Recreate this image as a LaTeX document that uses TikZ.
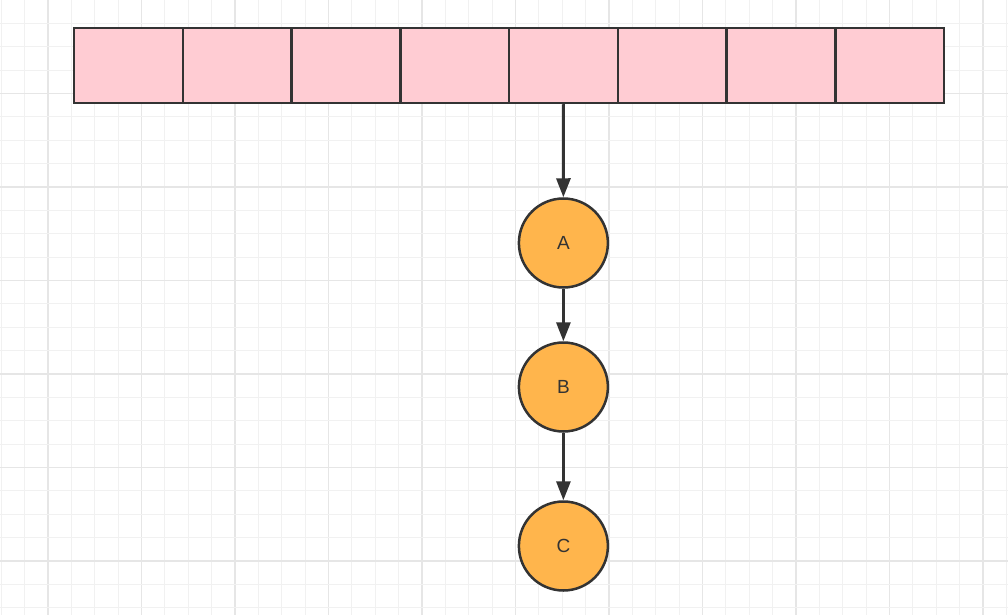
\documentclass[tikz,border=0pt]{standalone}
\usepackage{fontspec}
\setmainfont{Liberation Sans}
\usetikzlibrary{arrows.meta}
\definecolor{cellpink}{HTML}{FFCCD3}
\definecolor{nodeorange}{HTML}{FFB54C}
\definecolor{edgegray}{HTML}{333333}
\definecolor{gridminor}{HTML}{F1F1F1}
\definecolor{gridmajor}{HTML}{E6E6E6}
\tikzset{
	cell/.style={draw=edgegray, line width=2.5pt, fill=cellpink, minimum width=108.75pt, minimum height=75pt, inner sep=0pt},
	entry/.style={circle, draw=edgegray, line width=2.5pt, fill=nodeorange, minimum size=89pt, inner sep=0pt, text=edgegray, font=\fontsize{19}{19}\selectfont},
	link/.style={line width=3pt, draw=edgegray, -{Triangle[length=19pt, width=14pt]}}
}
\begin{document}
\begin{tikzpicture}[x=1pt, y=-1pt]
	\useasboundingbox (0,0) rectangle (1008,615);
	\fill[white] (0,0) rectangle (1008,615);
	
	% grid
	\foreach \k in {0,...,43}{
		\pgfmathtruncatemacro{\m}{mod(\k,4)}
		\ifnum\m=2
			\draw[gridmajor, line width=1.2pt] (1.3+23.375*\k,0) -- (1.3+23.375*\k,615);
		\else
			\draw[gridminor, line width=1pt] (1.3+23.375*\k,0) -- (1.3+23.375*\k,615);
		\fi
	}
	\foreach \k in {1,...,26}{
		\pgfmathtruncatemacro{\m}{mod(\k,4)}
		\ifnum\m=0
			\draw[gridmajor, line width=1.2pt] (0,23.375*\k) -- (1008,23.375*\k);
		\else
			\draw[gridminor, line width=1pt] (0,23.375*\k) -- (1008,23.375*\k);
		\fi
	}
	
	% table
	\foreach \i in {0,...,7}
		\node[cell] (c\i) at (74+108.75*\i+54.375, 65.5) {};
	
	% chain
	\node[entry] (A) at (563.4,243) {A};
	\node[entry] (B) at (563.4,387) {B};
	\node[entry] (C) at (563.4,546) {C};
	
	\draw[link] (c4.south) -- (A.north);
	\draw[link] (A.south) -- (B.north);
	\draw[link] (B.south) -- (C.north);
\end{tikzpicture}
\end{document}
